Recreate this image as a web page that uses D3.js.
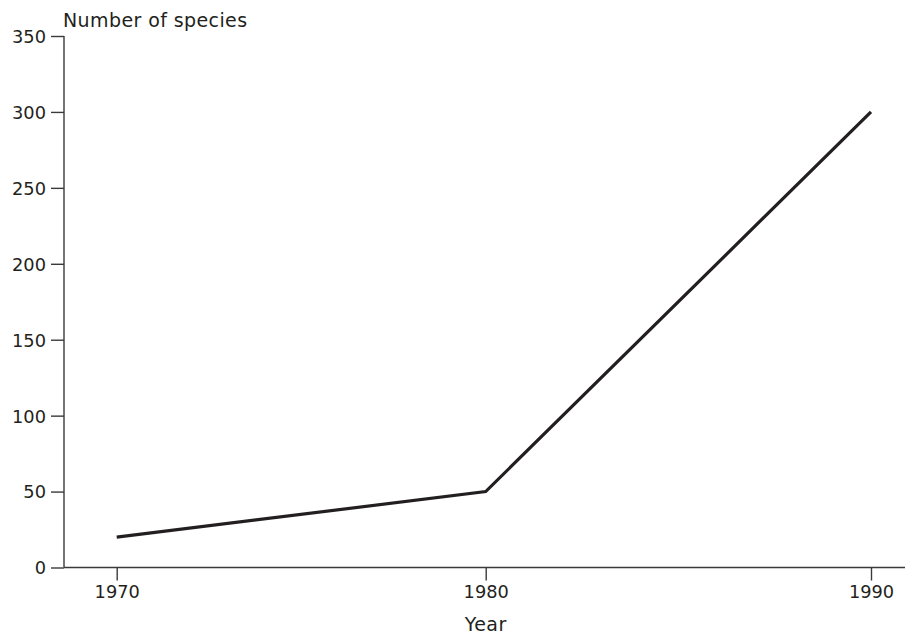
<!DOCTYPE html>
<html>
<head>
<meta charset="utf-8">
<script src="https://cdn.jsdelivr.net/npm/d3@7"></script>
<style>
  html, body { margin: 0; padding: 0; background: #fff; }
  svg { display: block; }
  text { font-family: "DejaVu Sans", sans-serif; fill: #231f20; }
</style>
</head>
<body>
<svg id="chart" width="906" height="634"></svg>
<script>
const years = [1970, 1980, 1990];
const species = [20, 50, 300];
const yTicks = [0, 50, 100, 150, 200, 250, 300, 350];
const yLabel = "Number of species";
const xLabel = "Year";

const svg = d3.select("#chart");
const x0 = 64, y0 = 567.5, yTop = 36;
const fontFam = "'DejaVu Sans', sans-serif";
const fs = 17.8;
const lfs = 19;

const x = d3.scaleLinear().domain([1970, 1980, 1990]).range([116.7, 485.7, 871]);
const y = d3.scaleLinear().domain([0, 350]).range([y0, yTop]);

const axisColor = "#3a3a3a";

// Y axis
const yAxis = svg.append("g").attr("transform", `translate(${x0},0)`)
  .call(d3.axisLeft(y).tickValues(yTicks).tickSize(13).tickPadding(5).tickFormat(d3.format("d")));
yAxis.select(".domain").remove();
yAxis.append("line").attr("x1", 0).attr("x2", 0).attr("y1", yTop).attr("y2", y0)
  .attr("stroke", axisColor).attr("stroke-width", 1.4);
yAxis.selectAll(".tick line").attr("stroke", axisColor).attr("stroke-width", 1.4);
yAxis.selectAll(".tick text").attr("font-size", fs).attr("fill", "#231f20")
  .attr("font-family", fontFam).attr("dy", "0.36em");

// X axis
const xAxis = svg.append("g").attr("transform", `translate(0,${y0})`)
  .call(d3.axisBottom(x).tickValues(years).tickSize(13).tickPadding(5).tickFormat(d3.format("d")));
xAxis.select(".domain").remove();
xAxis.append("line").attr("x1", x0).attr("x2", 905).attr("y1", 0).attr("y2", 0)
  .attr("stroke", axisColor).attr("stroke-width", 1.4);
xAxis.selectAll(".tick line").attr("stroke", axisColor).attr("stroke-width", 1.4);
xAxis.selectAll(".tick text").attr("font-size", fs).attr("fill", "#231f20")
  .attr("font-family", fontFam);

// Labels
svg.append("text").attr("x", 63).attr("y", 27).attr("font-size", lfs)
  .attr("letter-spacing", 0.4).text(yLabel);
svg.append("text").attr("x", x(1980)).attr("y", 631).attr("text-anchor", "middle")
  .attr("font-size", lfs).attr("letter-spacing", 0.4).text(xLabel);

// Line
const data = years.map((yr, i) => ({ yr, v: species[i] }));
svg.append("path").datum(data)
  .attr("fill", "none").attr("stroke", "#231f20").attr("stroke-width", 3.2)
  .attr("stroke-linejoin", "miter")
  .attr("d", d3.line().x(d => x(d.yr)).y(d => y(d.v)));
</script>
</body>
</html>
